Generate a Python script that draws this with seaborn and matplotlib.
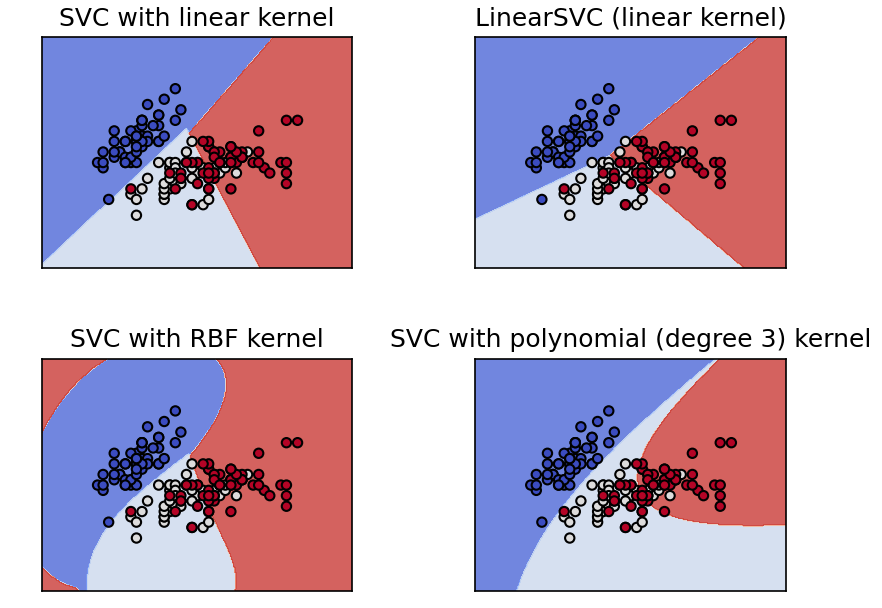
import numpy as np
import matplotlib
matplotlib.use("Agg")
import matplotlib.pyplot as plt
import seaborn as sns

# iris: sepal length / sepal width, 50 setosa, 50 versicolor, 50 virginica
SEPAL_LENGTH = [
    5.1, 4.9, 4.7, 4.6, 5.0, 5.4, 4.6, 5.0, 4.4, 4.9, 5.4, 4.8, 4.8, 4.3, 5.8, 5.7, 5.4,
    5.1, 5.7, 5.1, 5.4, 5.1, 4.6, 5.1, 4.8, 5.0, 5.0, 5.2, 5.2, 4.7, 4.8, 5.4, 5.2, 5.5,
    4.9, 5.0, 5.5, 4.9, 4.4, 5.1, 5.0, 4.5, 4.4, 5.0, 5.1, 4.8, 5.1, 4.6, 5.3, 5.0,
    7.0, 6.4, 6.9, 5.5, 6.5, 5.7, 6.3, 4.9, 6.6, 5.2, 5.0, 5.9, 6.0, 6.1, 5.6, 6.7, 5.6,
    5.8, 6.2, 5.6, 5.9, 6.1, 6.3, 6.1, 6.4, 6.6, 6.8, 6.7, 6.0, 5.7, 5.5, 5.5, 5.8, 6.0,
    5.4, 6.0, 6.7, 6.3, 5.6, 5.5, 5.5, 6.1, 5.8, 5.0, 5.6, 5.7, 5.7, 6.2, 5.1, 5.7,
    6.3, 5.8, 7.1, 6.3, 6.5, 7.6, 4.9, 7.3, 6.7, 7.2, 6.5, 6.4, 6.8, 5.7, 5.8, 6.4, 6.5,
    7.7, 7.7, 6.0, 6.9, 5.6, 7.7, 6.3, 6.7, 7.2, 6.2, 6.1, 6.4, 7.2, 7.4, 7.9, 6.4, 6.3,
    6.1, 7.7, 6.3, 6.4, 6.0, 6.9, 6.7, 6.9, 5.8, 6.8, 6.7, 6.7, 6.3, 6.5, 6.2, 5.9,
]
SEPAL_WIDTH = [
    3.5, 3.0, 3.2, 3.1, 3.6, 3.9, 3.4, 3.4, 2.9, 3.1, 3.7, 3.4, 3.0, 3.0, 4.0, 4.4, 3.9,
    3.5, 3.8, 3.8, 3.4, 3.7, 3.6, 3.3, 3.4, 3.0, 3.4, 3.5, 3.4, 3.2, 3.1, 3.4, 4.1, 4.2,
    3.1, 3.2, 3.5, 3.6, 3.0, 3.4, 3.5, 2.3, 3.2, 3.5, 3.8, 3.0, 3.8, 3.2, 3.7, 3.3,
    3.2, 3.2, 3.1, 2.3, 2.8, 2.8, 3.3, 2.4, 2.9, 2.7, 2.0, 3.0, 2.2, 2.9, 2.9, 3.1, 3.0,
    2.7, 2.2, 2.5, 3.2, 2.8, 2.5, 2.8, 2.9, 3.0, 2.8, 3.0, 2.9, 2.6, 2.4, 2.4, 2.7, 2.7,
    3.0, 3.4, 3.1, 2.3, 3.0, 2.5, 2.6, 3.0, 2.6, 2.3, 2.7, 3.0, 2.9, 2.9, 2.5, 2.8,
    3.3, 2.7, 3.0, 2.9, 3.0, 3.0, 2.5, 2.9, 2.5, 3.6, 3.2, 2.7, 3.0, 2.5, 2.8, 3.2, 3.0,
    3.8, 2.6, 2.2, 3.2, 2.8, 2.8, 2.7, 3.3, 3.2, 2.8, 3.0, 2.8, 3.0, 2.8, 3.8, 2.8, 2.8,
    2.6, 3.0, 3.4, 3.1, 3.0, 3.1, 3.1, 3.1, 2.7, 3.2, 3.3, 3.0, 2.5, 3.0, 3.4, 3.0,
]
SPECIES = [0] * 50 + [1] * 50 + [2] * 50

TITLES = [
    "SVC with linear kernel",
    "LinearSVC (linear kernel)",
    "SVC with RBF kernel",
    "SVC with polynomial (degree 3) kernel",
]
C = 1.0
RBF_GAMMA = 0.7
POLY_GAMMA = 0.5
POLY_DEGREE = 3


def linear_kernel(a, b):
    return a @ b.T


def rbf_kernel(a, b):
    d = (a ** 2).sum(1)[:, None] + (b ** 2).sum(1)[None, :] - 2 * a @ b.T
    return np.exp(-RBF_GAMMA * d)


def poly_kernel(a, b):
    return (POLY_GAMMA * (a @ b.T)) ** POLY_DEGREE


def _smo(K, y, C, tol=1e-3, max_iter=500000):
    # libsvm style SMO with second order working set selection
    n = len(y)
    Q = y[:, None] * y[None, :] * K
    diagK = np.diag(K)
    alpha = np.zeros(n)
    G = -np.ones(n)
    for _ in range(max_iter):
        up = ((y > 0) & (alpha < C)) | ((y < 0) & (alpha > 0))
        low = ((y > 0) & (alpha > 0)) | ((y < 0) & (alpha < C))
        yg = -y * G
        cand = np.where(up, yg, -np.inf)
        i = int(np.argmax(cand))
        gmax = cand[i]
        gmin = np.min(np.where(low, yg, np.inf))
        if gmax - gmin < tol:
            break
        ok = low & (yg < gmax)
        b = gmax - yg
        a = diagK[i] + diagK - 2 * K[i]
        a = np.where(a > 0, a, 1e-12)
        obj = np.where(ok, -(b ** 2) / a, np.inf)
        j = int(np.argmin(obj))
        ai, aj = alpha[i], alpha[j]
        quad = max(K[i, i] + K[j, j] - 2 * K[i, j], 1e-12)
        if y[i] != y[j]:
            delta = (-G[i] - G[j]) / quad
            diff = ai - aj
            ni, nj = ai + delta, aj + delta
            if diff > 0:
                if nj < 0:
                    nj, ni = 0.0, diff
            else:
                if ni < 0:
                    ni, nj = 0.0, -diff
            if diff > 0:
                if ni > C:
                    ni, nj = C, C - diff
            else:
                if nj > C:
                    nj, ni = C, C + diff
        else:
            delta = (G[i] - G[j]) / quad
            s = ai + aj
            ni, nj = ai - delta, aj + delta
            if s > C:
                if ni > C:
                    ni, nj = C, s - C
            else:
                if nj < 0:
                    nj, ni = 0.0, s
            if s > C:
                if nj > C:
                    nj, ni = C, s - C
            else:
                if ni < 0:
                    ni, nj = 0.0, s
        G += Q[:, i] * (ni - ai) + Q[:, j] * (nj - aj)
        alpha[i], alpha[j] = ni, nj
    yg = y * G
    free = (alpha > 0) & (alpha < C)
    if free.any():
        rho = yg[free].mean()
    else:
        ub_mask = ((alpha >= C) & (y < 0)) | ((alpha <= 0) & (y > 0))
        lb_mask = ((alpha >= C) & (y > 0)) | ((alpha <= 0) & (y < 0))
        rho = (yg[ub_mask].min() + yg[lb_mask].max()) / 2
    return alpha, rho


def fit_svc(X, y, kernel):
    models = []
    for a, b in [(0, 1), (0, 2), (1, 2)]:
        mask = (y == a) | (y == b)
        Xp = X[mask]
        yp = np.where(y[mask] == a, 1.0, -1.0)
        alpha, rho = _smo(kernel(Xp, Xp), yp, C)
        sv = alpha > 0
        models.append((a, b, Xp[sv], alpha[sv] * yp[sv], rho))
    return lambda P: _predict_ovo(models, kernel, P)


def _predict_ovo(models, kernel, P):
    votes = np.zeros((len(P), 3))
    for a, b, sv, coef, rho in models:
        dec = kernel(P, sv) @ coef - rho
        votes[dec > 0, a] += 1
        votes[dec <= 0, b] += 1
    return votes.argmax(1)


def fit_linear_svc(X, y):
    # squared hinge, l2 penalty incl. intercept, one-vs-rest (liblinear)
    Xa = np.hstack([X, np.ones((len(X), 1))])
    W = []
    for k in range(3):
        yk = np.where(y == k, 1.0, -1.0)
        w = np.zeros(Xa.shape[1])

        def f(w):
            m = np.maximum(0, 1 - yk * (Xa @ w))
            return 0.5 * w @ w + C * (m ** 2).sum()

        for _ in range(100):
            m = 1 - yk * (Xa @ w)
            act = m > 0
            g = w - 2 * C * (Xa[act] * (yk[act] * m[act])[:, None]).sum(0)
            if np.linalg.norm(g) < 1e-10:
                break
            H = np.eye(len(w)) + 2 * C * Xa[act].T @ Xa[act]
            step = np.linalg.solve(H, g)
            t = 1.0
            while f(w - t * step) > f(w) - 1e-4 * t * g @ step and t > 1e-8:
                t *= 0.5
            w = w - t * step
        W.append(w)
    W = np.array(W)
    return lambda P: (np.hstack([P, np.ones((len(P), 1))]) @ W.T).argmax(1)


X = np.column_stack([SEPAL_LENGTH, SEPAL_WIDTH])
y = np.array(SPECIES)

predictors = [
    fit_svc(X, y, linear_kernel),
    fit_linear_svc(X, y),
    fit_svc(X, y, rbf_kernel),
    fit_svc(X, y, poly_kernel),
]

h = 0.02
x_min, x_max = X[:, 0].min() - 1, X[:, 0].max() + 1
y_min, y_max = X[:, 1].min() - 1, X[:, 1].max() + 1
xx, yy = np.meshgrid(np.arange(x_min, x_max, h), np.arange(y_min, y_max, h))
grid = np.c_[xx.ravel(), yy.ravel()]

cmap = plt.cm.coolwarm
palette = [cmap(0.0), cmap(0.5), cmap(1.0)]

fig = plt.figure(figsize=(5.88, 4.06), dpi=150)
W_PX, H_PX = 882, 609
positions = [
    (42, 38, 310, 231), (475, 38, 311, 231),
    (42, 360, 310, 232), (475, 360, 311, 232),
]

for predict, title, (px, py, pw, ph) in zip(predictors, TITLES, positions):
    ax = fig.add_axes([px / W_PX, 1 - (py + ph) / H_PX, pw / W_PX, ph / H_PX])
    Z = predict(grid).reshape(xx.shape)
    ax.contourf(xx, yy, Z, cmap=cmap, alpha=0.8)
    sns.scatterplot(
        x=X[:, 0], y=X[:, 1], hue=y, palette=palette, s=20,
        edgecolor='k', linewidth=1.0, legend=False, ax=ax
    )
    ax.set_xlim(xx.min(), xx.max())
    ax.set_ylim(yy.min(), yy.max())
    ax.set_xlabel('')
    ax.set_ylabel('')
    ax.set_xticks(())
    ax.set_yticks(())
    ax.set_title(title)

fig.savefig('out.png', dpi=150)
